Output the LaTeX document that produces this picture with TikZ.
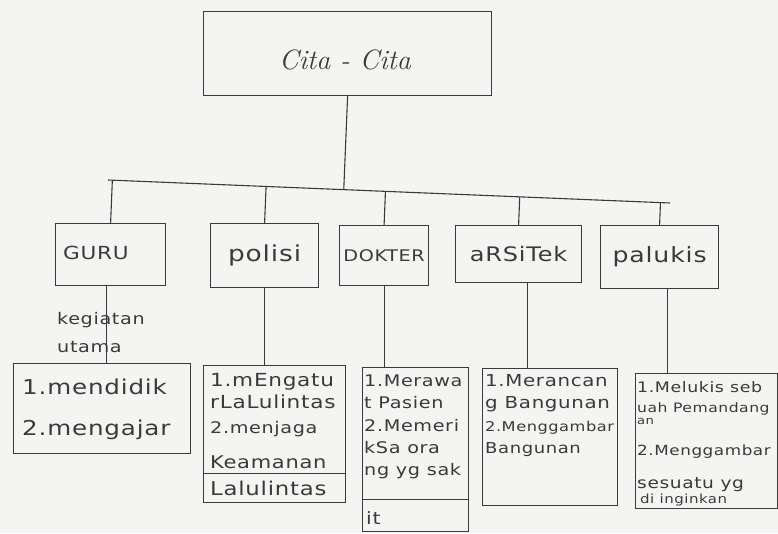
\documentclass[tikz,border=0pt]{standalone}
\usepackage{fontspec}
\usetikzlibrary{calc}
\newfontfamily\hand[FakeStretch=1.2,LetterSpace=4]{DejaVu Sans}
\definecolor{paper}{HTML}{F4F4F2}
\definecolor{pencil}{HTML}{3A3A3A}
\newcommand{\hs}[1]{\hand\fontsize{#1}{#1}\selectfont}
\begin{document}
\begin{tikzpicture}[x=1pt,y=-1pt,
  box/.style={draw=pencil, line width=1.2pt, rectangle, inner sep=0pt, anchor=north west, text=pencil},
  txt/.style={anchor=base west, inner sep=0pt, text=pencil},
  link/.style={draw=pencil, line width=1.1pt}]
\path[use as bounding box, fill=paper] (0,0) rectangle (778,533);

% top
\node[box, minimum width=288pt, minimum height=84pt] (top) at (203,11) {};
\node[anchor=center, inner sep=0pt, text=pencil, font=\fontsize{28}{30}\selectfont\itshape] (toptext) at (345,60) {Cita - Cita};

% level 2
\node[box, minimum width=110pt, minimum height=62pt] (guru) at (55,223) {};
\node[anchor=center, inner sep=0pt, text=pencil, font=\hs{18}] (gurutext) at (96,253) {GURU};
\node[box, minimum width=108pt, minimum height=64pt, font=\hs{22}] (polisi) at (210,223) {polisi};
\node[box, minimum width=89pt, minimum height=60pt, font=\hs{16}] (dokter) at (339,225) {DOKTER};
\node[box, minimum width=126pt, minimum height=57pt, font=\hs{20}] (arsitek) at (455,225) {aRSiTek};
\node[box, minimum width=118pt, minimum height=63pt, font=\hs{21}] (palukis) at (600,225) {palukis};

% bus
\coordinate (bl) at (108,180);
\coordinate (br) at (670,203);
\draw[link] (bl) -- (br);
\draw[link] (top.south) -- ($(bl)!(top.south)!(br)$);
\foreach \n in {guru,polisi,dokter,arsitek,palukis}
  \draw[link] (\n.north) -- ($(bl)!(\n.north)!(br)$);

% level 3 boxes
\node[box, minimum width=177pt, minimum height=90pt] (gact) at (13,363) {};
\node[box, minimum width=142pt, minimum height=137pt] (pact) at (203,365) {};
\node[box, minimum width=106pt, minimum height=164pt] (dact) at (362,367) {};
\node[box, minimum width=135pt, minimum height=137pt] (aact) at (482,368) {};
\node[box, minimum width=142pt, minimum height=135pt] (lact) at (635,373) {};
\draw[link] ([yshift=30pt]pact.south west) -- ([yshift=30pt]pact.south east);
\draw[link] ([yshift=33pt]dact.south west) -- ([yshift=33pt]dact.south east);

% drops
\draw[link] ([xshift=-4pt]guru.south) -- ([xshift=-4pt]guru.south |- gact.north);
\draw[link] (polisi.south) -- (polisi.south |- pact.north);
\draw[link] (dokter.south) -- (dokter.south |- dact.north);
\draw[link] ([xshift=9pt]arsitek.south) -- ([xshift=9pt]arsitek.south |- aact.north);
\draw[link] ([xshift=8pt]palukis.south) -- ([xshift=8pt]palukis.south |- lact.north);

% kegiatan utama
\node[txt, font=\hs{16}] (keg1) at (57,324) {kegiatan};
\node[txt, font=\hs{16}] (keg2) at (57,352) {utama};

% guru activities
\node[txt, font=\hs{20.5}] (g1) at (22,394) {1.mendidik};
\node[txt, font=\hs{20.5}] (g2) at (22,435) {2.mengajar};

% polisi activities
\node[txt, font=\hs{18}] (p1) at (210,386) {1.mEngatu};
\node[txt, font=\hs{18}] (p2) at (210,408) {rLaLulintas};
\node[txt, font=\hs{16}] (p3) at (210,433) {2.menjaga};
\node[txt, font=\hs{17.5}] (p4) at (210,468) {Keamanan};
\node[txt, font=\hs{19}] (p5) at (210,495) {Lalulintas};

% dokter activities
\node[txt, font=\hs{16}] (d1) at (364,386) {1.Merawa};
\node[txt, font=\hs{16}] (d2) at (364,408) {t Pasien};
\node[txt, font=\hs{16}] (d3) at (364,431) {2.Memeri};
\node[txt, font=\hs{16}] (d4) at (364,453) {kSa ora};
\node[txt, font=\hs{16}] (d5) at (364,475) {ng yg sak};
\node[txt, font=\hs{17}] (d6) at (366,524) {it};

% arsitek activities
\node[txt, font=\hs{16.5}] (a1) at (485,386) {1.Merancan};
\node[txt, font=\hs{16.5}] (a2) at (485,408) {g Bangunan};
\node[txt, font=\hs{13.5}] (a3) at (485,431) {2.Menggambar};
\node[txt, font=\hs{15}] (a4) at (485,453) {Bangunan};

% palukis activities
\node[txt, font=\hs{14.5}] (l1) at (637,392) {1.Melukis seb};
\node[txt, font=\hs{13}] (l2) at (637,412) {uah Pemandang};
\node[txt, font=\hs{11}] (l3) at (637,424) {an};
\node[txt, font=\hs{14}] (l4) at (637,455) {2.Menggambar};
\node[txt, font=\hs{15.5}] (l5) at (637,488) {sesuatu yg};
\node[txt, font=\hs{12.5}] (l6) at (640,503) {di inginkan};
\end{tikzpicture}
\end{document}
